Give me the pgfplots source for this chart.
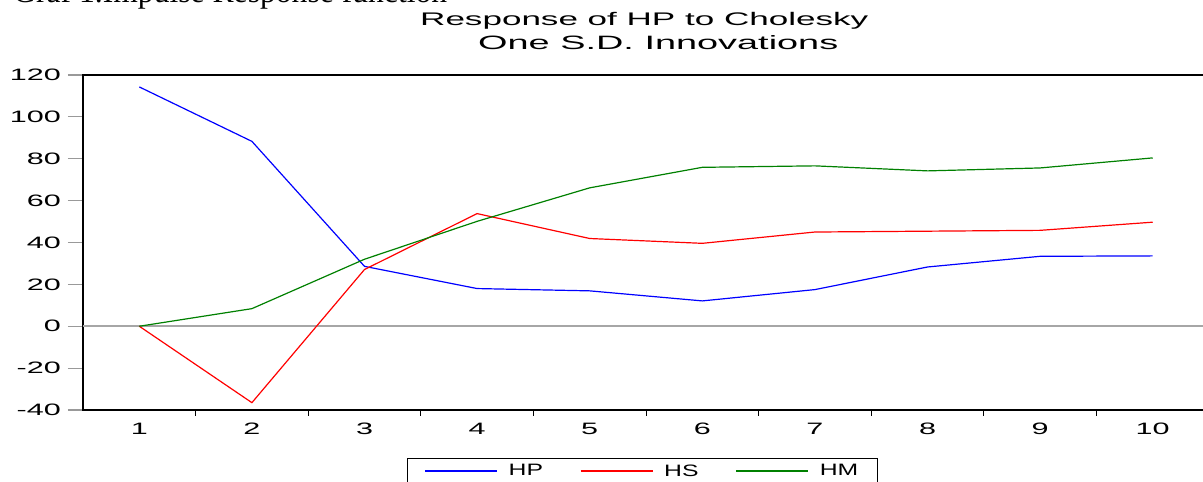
\documentclass[border=0pt]{standalone}
\usepackage{fontspec}
\setmainfont{Liberation Sans}
\newfontfamily\timesf{Liberation Serif}
\usepackage{graphicx}
\usepackage{pgfplots}
\pgfplotsset{compat=1.18}
\newcommand\st[1]{\scalebox{1.85}[1]{#1}}
\newcommand\lt[1]{\scalebox{1.5}[1]{#1}}
\definecolor{evgreen}{RGB}{0,128,0}
\begin{document}
\begin{tikzpicture}[x=1bp,y=1bp]
\begin{axis}[
  at={(83bp,72bp)}, anchor=south west,
  scale only axis, width=1126bp, height=335bp,
  xmin=0.5, xmax=10.5, ymin=-40, ymax=120,
  axis line style={black, line width=1.2bp},
  tick align=outside,
  tick pos=left,
  xtick={1,...,10},
  minor xtick={1.5,2.5,...,9.5},
  major x tick style={draw=none},
  minor x tick style={black, line width=1bp},
  minor tick length=6bp,
  ytick={-40,-20,...,120},
  major y tick style={black!40, line width=1.2bp},
  major tick length=15bp,
  /pgf/number format/assume math mode=true,
  tick label style={font=\fontsize{16.5bp}{19bp}\selectfont},
  yticklabel={\st{\pgfmathprintnumber{\tick}}},
  xticklabel={\st{\pgfmathprintnumber{\tick}}},
  yticklabel style={anchor=east, inner sep=0pt, xshift=-7bp},
  xticklabel style={anchor=north, inner sep=0pt, yshift=2bp},
  legend columns=3,
  legend image code/.code={\draw[#1] (0bp,0bp) -- (72bp,0bp);},
  legend style={at={(axis description cs:0.2877,-0.1433)}, anchor=north west,
    draw=black, line width=1bp, inner xsep=17bp, inner ysep=4bp,
    font=\fontsize{16.5bp}{19bp}\selectfont,
    nodes={inner sep=2bp},
    /tikz/every odd column/.append style={column sep=9bp},
    /tikz/every even column/.append style={column sep=35bp}},
]
\addplot[black!35, line width=1.5bp, forget plot] coordinates {(0.5,0) (10.5,0)};
\addplot[blue, line width=1.2bp] coordinates {(1,114.3)(2,88.3)(3,28.6)(4,18.0)(5,16.9)(6,12.1)(7,17.5)(8,28.3)(9,33.4)(10,33.6)};
\addlegendentry{\lt{HP}}
\addplot[red, line width=1.2bp] coordinates {(1,0)(2,-36.5)(3,27.1)(4,53.8)(5,41.9)(6,39.6)(7,45.0)(8,45.4)(9,45.8)(10,49.7)};
\addlegendentry{\lt{HS}}
\addplot[evgreen, line width=1.2bp] coordinates {(1,0)(2,8.4)(3,32.0)(4,50.1)(5,66.1)(6,75.9)(7,76.6)(8,74.2)(9,75.6)(10,80.4)};
\addlegendentry{\lt{HM}}
\end{axis}
\draw[black, line width=1.2bp] (83,407) -- (1203,407);
\node[anchor=base west, inner sep=0pt] at (420,456) {\resizebox{448bp}{13.2bp}{Response of HP to Cholesky}};
\node[anchor=base west, inner sep=0pt] at (478,432) {\resizebox{360bp}{14bp}{One S.D. Innovations}};
\node[anchor=base west, inner sep=0pt] at (13,479) {\resizebox{434bp}{!}{\timesf Graf 1.Impulse Response function}};
\pgfresetboundingbox
\useasboundingbox (0,0) rectangle (1203,482);
\end{tikzpicture}
\end{document}
